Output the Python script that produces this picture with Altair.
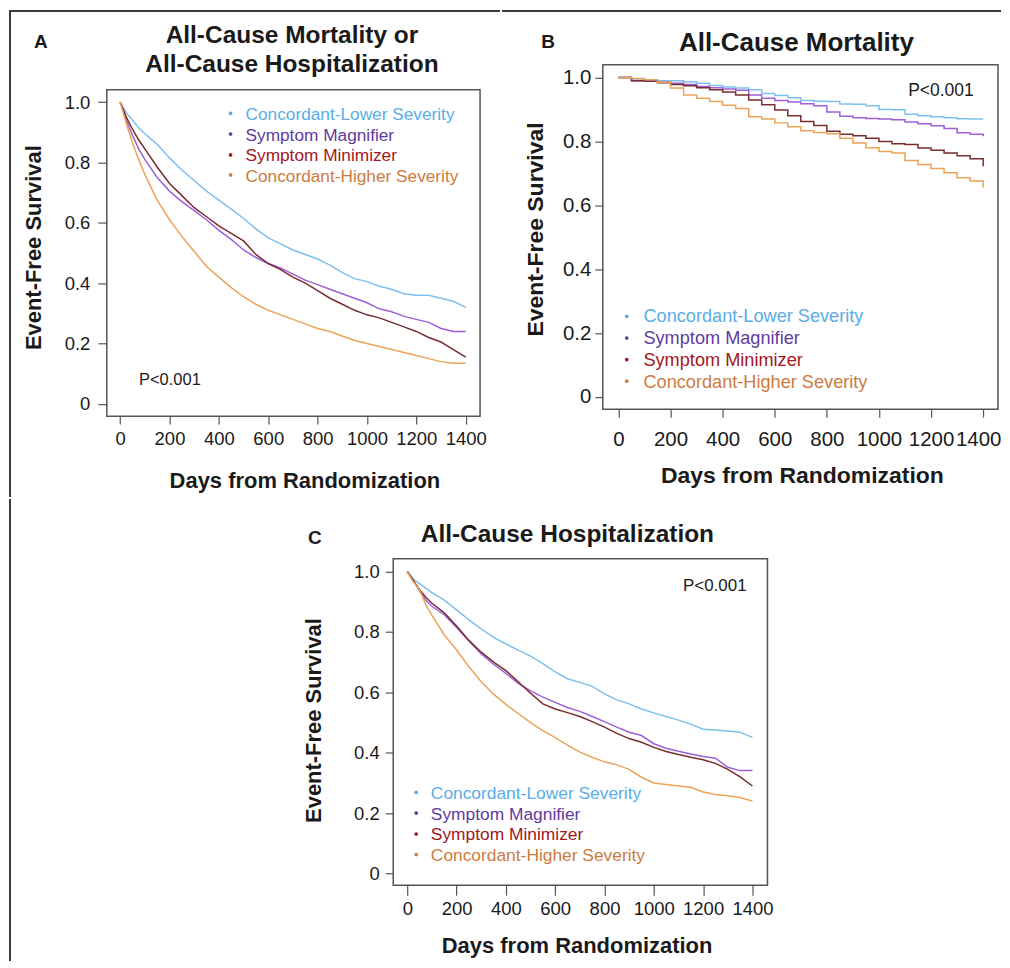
import altair as alt
import pandas as pd

FONT = "Liberation Sans"
INK = "#1a1a1a"
FRAME = "#555555"
BORDER = "#3c3c3c"

GROUPS = ["Concordant-Lower Severity", "Symptom Magnifier",
          "Symptom Minimizer", "Concordant-Higher Severity"]
LINE_COLORS = ["#7cc0ee", "#9d60d8", "#7a2d2d", "#eba358"]
TEXT_COLORS = ["#5aade6", "#5f3b9e", "#a3161b", "#cd7b3f"]

X_TICKS = [0, 200, 400, 600, 800, 1000, 1200, 1400]
Y_TICKS = [0, 0.2, 0.4, 0.6, 0.8, 1.0]

# ---- Panel A: all-cause mortality or all-cause hospitalization ----
DAYS_A = [0, 25, 50, 75, 100, 150, 200, 250, 300, 350, 400, 450, 500, 550, 600,
          650, 700, 750, 800, 850, 900, 950, 1000, 1050, 1100, 1150, 1200, 1250,
          1300, 1350, 1400]
A_LOWER = [1, .965, .94, .915, .895, .86, .815, .775, .74, .705, .675, .645, .615,
           .58, .55, .53, .51, .495, .48, .46, .435, .415, .405, .39, .38, .365,
           .36, .36, .35, .34, .32]
A_MAGNIFIER = [1, .94, .89, .845, .81, .75, .705, .67, .64, .61, .575, .545, .51,
               .485, .465, .45, .43, .41, .395, .38, .365, .35, .335, .315, .305,
               .29, .28, .27, .25, .24, .24]
A_MINIMIZER = [1, .95, .91, .875, .845, .785, .73, .69, .65, .62, .59, .565, .54,
               .495, .465, .445, .42, .40, .375, .35, .33, .31, .295, .285, .27,
               .255, .24, .22, .205, .18, .155]
A_HIGHER = [1, .93, .865, .81, .76, .675, .61, .555, .505, .455, .42, .385, .355,
            .33, .31, .295, .28, .265, .25, .24, .225, .21, .20, .19, .18, .17,
            .16, .15, .14, .135, .135]

# ---- Panel B: all-cause mortality ----
DAYS_B = [0, 50, 100, 150, 200, 250, 300, 350, 400, 450, 500, 550, 600, 650, 700,
          750, 800, 850, 900, 950, 1000, 1050, 1100, 1150, 1200, 1250, 1300, 1350,
          1400]
B_LOWER = [1.0, .995, .992, .99, .99, .987, .982, .975, .97, .967, .962, .95, .944,
           .937, .928, .926, .925, .917, .916, .912, .90, .899, .885, .88, .877,
           .874, .871, .87, .87]
B_MAGNIFIER = [1.0, .99, .99, .986, .982, .978, .972, .968, .964, .96, .945, .935,
               .928, .923, .918, .912, .892, .879, .874, .872, .87, .868, .861,
               .855, .849, .84, .827, .822, .816]
B_MINIMIZER = [1.0, .99, .988, .984, .978, .974, .968, .962, .955, .945, .93, .915,
               .898, .88, .862, .85, .832, .822, .818, .81, .80, .793, .79, .779,
               .772, .764, .755, .746, .722]
B_HIGHER = [1.0, .997, .993, .985, .967, .945, .935, .925, .913, .903, .877, .87,
            .858, .846, .833, .828, .824, .81, .795, .78, .768, .764, .74, .728,
            .715, .702, .686, .676, .656]

# ---- Panel C: all-cause hospitalization ----
DAYS_C = [0, 25, 50, 75, 100, 150, 200, 250, 300, 350, 400, 450, 500, 550, 600,
          650, 700, 750, 800, 850, 900, 950, 1000, 1050, 1100, 1150, 1200, 1250,
          1300, 1350, 1400]
C_LOWER = [1, .975, .96, .945, .93, .905, .873, .84, .81, .782, .76, .74, .72, .695,
           .668, .645, .633, .62, .595, .575, .562, .545, .532, .52, .508, .495,
           .478, .475, .472, .468, .451]
C_MAGNIFIER = [1, .97, .935, .905, .885, .857, .815, .77, .727, .693, .663, .63,
               .605, .584, .567, .55, .537, .52, .503, .485, .468, .457, .43, .415,
               .405, .396, .388, .382, .352, .341, .341]
C_MINIMIZER = [1, .97, .94, .915, .895, .863, .82, .772, .733, .70, .672, .635,
               .597, .562, .545, .533, .52, .503, .485, .464, .447, .435, .418,
               .404, .394, .385, .377, .365, .345, .32, .29]
C_HIGHER = [1, .965, .94, .89, .855, .79, .74, .685, .635, .594, .56, .53, .50,
            .473, .45, .425, .402, .385, .37, .36, .345, .319, .30, .295, .29,
            .286, .27, .262, .258, .252, .24]

P_TEXT = "P<0.001"
X_TITLE = "Days from Randomization"
Y_TITLE = "Event-Free Survival"


def curve_frame(days, series):
    rows = []
    for name, vals in zip(GROUPS, series):
        for d, v in zip(days, vals):
            rows.append({"day": d, "surv": v, "group": name})
    return pd.DataFrame(rows)


def one():
    return pd.DataFrame({"t": [0]})


def panel(days, series, s):
    ox, oy = s["origin"]          # page position of the panel's view
    fx1, fy1, fx2, fy2 = s["frame"]  # page position of the plotted box
    rx = lambda v: v - ox
    ry = lambda v: v - oy
    w, h = s["size"]
    axis_x = fx1                   # page x of the y axis
    axis_bottom = fy2              # page y of the x axis

    xaxis = alt.Axis(
        values=X_TICKS, format="d", title=X_TITLE, grid=False, domain=False,
        tickSize=s["xtick"], tickColor=FRAME, tickWidth=1.2,
        labelFontSize=s["lab"], labelColor=INK, labelFont=FONT,
        labelPadding=s["xpad"], labelFlush=False, labelOverlap=False,
        labelOffset={"condition": {"test": "datum.value == 1400",
                                   "value": s["last_shift"]}, "value": 0},
        titleFontSize=s["atitle"], titleFontWeight="bold", titleColor=INK,
        titleFont=FONT, titleX=s["xt"][0] - ox,
        titleY=s["xt"][1] - axis_bottom + 1.3,
        titleAlign="center", titleBaseline="middle")
    yaxis = alt.Axis(
        values=Y_TICKS, title=Y_TITLE, grid=False, domain=False,
        labelExpr="datum.value == 0 ? '0' : format(datum.value, '.1f')",
        tickSize=s["ytick"], tickColor=FRAME, tickWidth=1.2,
        labelFontSize=s["lab"], labelColor=INK, labelFont=FONT,
        labelPadding=s["ypad"], labelFlush=False, labelOverlap=False,
        offset=-(axis_x - ox),
        titleFontSize=s["atitle"], titleFontWeight="bold", titleColor=INK,
        titleFont=FONT, titleX=s["yt"][0] - axis_x, titleY=s["yt"][1] - oy,
        titleAlign="center", titleBaseline="middle")

    lines = alt.Chart(curve_frame(days, series)).mark_line(
        strokeWidth=1.5, interpolate=s["interp"]).encode(
        x=alt.X("day:Q", axis=xaxis,
                scale=alt.Scale(domain=s["xdom"], range=[rx(fx1), rx(fx2)],
                                nice=False, zero=False)),
        y=alt.Y("surv:Q", axis=yaxis,
                scale=alt.Scale(domain=s["ydom"], range=[ry(fy2), ry(fy1)],
                                nice=False, zero=False)),
        color=alt.Color("group:N", legend=None,
                        scale=alt.Scale(domain=GROUPS, range=LINE_COLORS)),
    )

    def text(label, x, y, size, color=INK, weight="normal", align="left"):
        return alt.Chart(pd.DataFrame({"t": [label]})).mark_text(
            align=align, baseline="alphabetic", fontSize=size, fontWeight=weight,
            color=color, font=FONT
        ).encode(text="t:N", x=alt.value(rx(x)), y=alt.value(ry(y)))

    frame = alt.Chart(one()).mark_rect(
        filled=False, color=FRAME, strokeWidth=1.5).encode(
        x=alt.value(rx(fx1)), x2=alt.value(rx(fx2)),
        y=alt.value(ry(fy1)), y2=alt.value(ry(fy2)))

    layers = [frame, lines]
    for i, (name, tc) in enumerate(zip(GROUPS, TEXT_COLORS)):
        layers.append(
            alt.Chart(one()).mark_circle(size=14, color=tc, opacity=1).encode(
                x=alt.value(rx(s["bx"])), y=alt.value(ry(s["by"][i]))))
        layers.append(text(name, s["tx"], s["ty"][i], s["leg"], tc))
    layers.append(text(P_TEXT, s["p"][0], s["p"][1], s["psize"]))
    layers.append(text(s["letter"], s["lpos"][0], s["lpos"][1], 19,
                       weight="bold", align="center"))
    for line, (tx, ty) in zip(s["title"], s["title_pos"]):
        layers.append(text(line, tx, ty, s["tsize"], weight="bold", align="center"))
    for (x1, y1, x2, y2) in s["borders"]:
        enc = dict(x=alt.value(rx(x1)), y=alt.value(ry(y1)))
        if x2 != x1:
            enc["x2"] = alt.value(rx(x2))
        if y2 != y1:
            enc["y2"] = alt.value(ry(y2))
        layers.append(alt.Chart(one()).mark_rule(
            color=BORDER, strokeWidth=2, strokeCap="square").encode(**enc))
    return alt.layer(*layers).properties(width=w, height=h)


# all positions below are page pixels
spec_a = dict(
    origin=(106, 63), size=(374, 352), frame=(106, 88, 480, 415),
    xdom=[-54, 1458], ydom=[-0.0406, 1.0406], interp="linear",
    xtick=8, ytick=9, lab=18.5, xpad=5.5, ypad=8, atitle=22, last_shift=0,
    xt=(304, 478), yt=(33, 245.7),
    bx=230, by=[111.7, 132.3, 153.3, 173.3],
    tx=245, ty=[118.3, 139, 159.7, 180.4], leg=17.3,
    p=(138.3, 383.3), psize=16.5,
    letter="A", lpos=(40, 46),
    title=["All-Cause Mortality or", "All-Cause Hospitalization"],
    title_pos=[(291.5, 41.5), (291.5, 70.5)], tsize=24.5,
    borders=[(9, 9, 9, 495), (9, 9, 499, 9)],
)

spec_b = dict(
    origin=(601, 63), size=(396, 345), frame=(601, 63, 997, 408),
    xdom=[-60, 1457], ydom=[-0.0384, 1.0397], interp="step-after",
    xtick=8, ytick=8, lab=20.5, xpad=12, ypad=4, atitle=23, last_shift=-5,
    xt=(800.5, 473), yt=(533.3, 227.5),
    bx=625, by=[315, 336.7, 358.3, 380],
    tx=641.7, ty=[320.7, 342.7, 364.7, 386.7], leg=18.2,
    p=(907, 94.3), psize=17.5,
    letter="B", lpos=(546.3, 46),
    title=["All-Cause Mortality"], title_pos=[(795, 49.3)], tsize=26,
    borders=[(501, 9, 999, 9)],
)

spec_c = dict(
    origin=(106, 497), size=(662, 386), frame=(393, 556, 768, 883),
    xdom=[-57, 1461], ydom=[-0.0383, 1.0419], interp="linear",
    xtick=10, ytick=8, lab=18.5, xpad=4.5, ypad=6, atitle=22, last_shift=0,
    xt=(576.7, 941.7), yt=(313.3, 717.5),
    bx=416, by=[790, 810.7, 831.7, 852.3],
    tx=430.7, ty=[796.7, 817.2, 837.7, 858.3], leg=17.4,
    p=(683.3, 588.3), psize=17,
    letter="C", lpos=(314.5, 540.7),
    title=["All-Cause Hospitalization"], title_pos=[(567.5, 539)], tsize=24.5,
    borders=[(9, 497, 9, 958)],
)

panel_a = panel(DAYS_A, [A_LOWER, A_MAGNIFIER, A_MINIMIZER, A_HIGHER], spec_a)
panel_b = panel(DAYS_B, [B_LOWER, B_MAGNIFIER, B_MINIMIZER, B_HIGHER], spec_b)
panel_c = panel(DAYS_C, [C_LOWER, C_MAGNIFIER, C_MINIMIZER, C_HIGHER], spec_c)

row1 = alt.hconcat(panel_a, panel_b, spacing=0)
chart = alt.vconcat(row1, panel_c, spacing=0).properties(padding=0)
chart = chart.configure(font=FONT).configure_view(stroke="transparent")

chart.save("out.html", embed_options={"renderer": "svg", "actions": False})
